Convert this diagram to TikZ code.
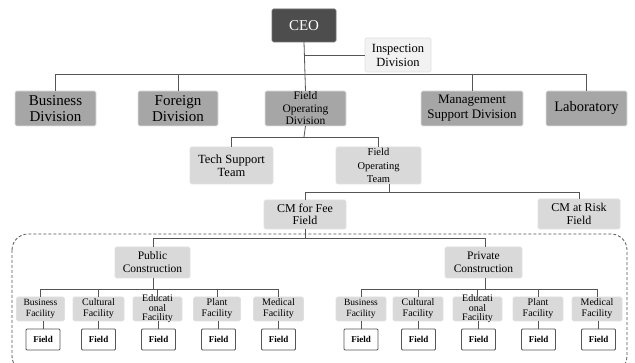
\documentclass[tikz,border=0pt]{standalone}
\usepackage{fontspec}
\setmainfont{Liberation Serif}
\newfontfamily\chartfont{Liberation Serif}
\begin{document}
\definecolor{ceofill}{HTML}{4D4D4D}
\definecolor{divfill}{HTML}{A6A6A6}
\definecolor{unitfill}{HTML}{D9D9D9}
\definecolor{inspfill}{HTML}{F2F2F2}
\definecolor{wire}{HTML}{555555}
\begin{tikzpicture}[x=1pt,y=-1pt,
  box/.style={rectangle, rounded corners=1.5pt, draw=black!12, line width=0.6pt,
    inner sep=0pt, outer sep=0pt},
  txt/.style={align=center, inner sep=0pt},
  fz/.style 2 args={font=\chartfont\fontsize{#1}{#2}\selectfont},
  ceobox/.style={box, fill=ceofill, draw=ceofill!80!white},
  divbox/.style={box, fill=divfill},
  unitbox/.style={box, fill=unitfill},
  inspbox/.style={box, fill=inspfill},
  facbox/.style={box, fill=unitfill, minimum height=24pt},
  fieldbox/.style={rectangle, rounded corners=1pt, draw=wire, line width=0.8pt, fill=white,
    minimum width=34pt, minimum height=21pt, inner sep=0pt,
    font=\chartfont\fontsize{9}{10}\selectfont\bfseries},
  wireline/.style={draw=wire, line width=0.8pt},
  group/.style={draw=wire, line width=0.8pt, dash pattern=on 3pt off 2pt, rounded corners=16pt}
]
\useasboundingbox (0,0) rectangle (635,363);
\clip (0,0) rectangle (635,363);

% dashed frame around the field-level organisation
\path[group] (12,234) rectangle (627,372);

% top level
\node[ceobox, minimum width=64pt, minimum height=33pt,
  label={[txt, fz={15}{16}, text=white]center:CEO}] (ceo) at (304,25.5) {};
\node[inspbox, minimum width=66pt, minimum height=34pt,
  label={[txt, fz={12.5}{14}]center:Inspection\\Division}] (insp) at (398,55) {};

% divisions
\node[divbox, minimum width=81pt, minimum height=35pt,
  label={[txt, fz={15}{16}]center:Business\\Division}] (bd) at (55.5,108.5) {};
\node[divbox, minimum width=80pt, minimum height=35pt,
  label={[txt, fz={15}{16}]center:Foreign\\Division}] (fd) at (178,108.5) {};
\node[divbox, minimum width=81pt, minimum height=35pt,
  label={[txt, fz={11.5}{12.5}]center:Field\\Operating\\Division}] (fod) at (305.5,108.5) {};
\node[divbox, minimum width=102pt, minimum height=35pt,
  label={[txt, fz={13}{15}]center:Management\\Support Division}] (msd) at (472,108.5) {};
\node[divbox, minimum width=81pt, minimum height=35pt,
  label={[txt, fz={14.5}{16}]center:Laboratory}] (lab) at (586.5,108.5) {};

% teams
\node[unitbox, minimum width=83pt, minimum height=37pt,
  label={[txt, fz={12.5}{13.5}]center:Tech Support\\Team}] (tst) at (231.5,165.5) {};
\node[unitbox, minimum width=85pt, minimum height=37pt,
  label={[txt, fz={10.5}{13.5}]center:Field\\Operating\\Team}] (fot) at (378.5,165.5) {};

% field types
\node[unitbox, minimum width=82pt, minimum height=29pt,
  label={[txt, fz={12}{12.5}]center:CM for Fee\\Field}] (cmf) at (305,214.5) {};
\node[unitbox, minimum width=82pt, minimum height=30pt,
  label={[txt, fz={12}{12.5}]center:CM at Risk\\Field}] (cmr) at (579,214) {};

% construction sectors
\node[unitbox, minimum width=75pt, minimum height=31pt,
  label={[txt, fz={11.5}{13}]center:Public\\Construction}] (pub) at (152.5,262.5) {};
\node[unitbox, minimum width=77pt, minimum height=31pt,
  label={[txt, fz={11.5}{13}]center:Private\\Construction}] (pri) at (483.5,262.5) {};

% facilities: public
\node[facbox, minimum width=48pt, label={[txt, fz={9.5}{11}]center:Business\\Facility}] (pbf) at (40.5,309) {};
\node[facbox, minimum width=51pt, label={[txt, fz={10}{11}]center:Cultural\\Facility}] (pcf) at (98.5,309) {};
\node[facbox, minimum width=49pt, label={[txt, fz={10}{9.5}]center:Educati\\onal\\Facility}] (pef) at (157.5,309) {};
\node[facbox, minimum width=47pt, label={[txt, fz={10}{11}]center:Plant\\Facility}] (ppf) at (217,309) {};
\node[facbox, minimum width=50pt, label={[txt, fz={10}{11}]center:Medical\\Facility}] (pmf) at (278.5,309) {};

% facilities: private
\node[facbox, minimum width=50pt, label={[txt, fz={9.5}{11}]center:Business\\Facility}] (qbf) at (361,309) {};
\node[facbox, minimum width=50pt, label={[txt, fz={10}{11}]center:Cultural\\Facility}] (qcf) at (418,309) {};
\node[facbox, minimum width=49pt, label={[txt, fz={10}{9.5}]center:Educati\\onal\\Facility}] (qef) at (477.5,309) {};
\node[facbox, minimum width=50pt, label={[txt, fz={10}{11}]center:Plant\\Facility}] (qpf) at (538,309) {};
\node[facbox, minimum width=50pt, label={[txt, fz={10}{11}]center:Medical\\Facility}] (qmf) at (597,309) {};

% field offices
\foreach \f/\x in {pbf/43, pcf/98.5, pef/158.5, ppf/218.5, pmf/278.5,
                   qbf/361, qcf/418.5, qef/478.5, qpf/538.5, qmf/598.5}{
  \node[fieldbox] (\f-field) at (\x,339.5) {Field};
}

% bus coordinates
\coordinate (b1) at (304,74);
\coordinate (b2) at (304,137);
\coordinate (b3) at (389,192);
\coordinate (b4) at (305,238);
\coordinate (b5) at (153,289);
\coordinate (b6) at (485,289);

% CEO to divisions
\draw[wireline] (ceo.south) -- (fod.north);
\draw[wireline] (ceo.south |- insp.west) -- (insp.west);
\draw[wireline] (b1 -| bd) -- (b1 -| lab);
\foreach \d in {bd, fd, msd, lab}{
  \draw[wireline] (b1 -| \d) -- (\d.north);
}

% field operating division to teams
\draw[wireline] (fod.south |- b2) ++(0,-11) -- (b2);
\draw[wireline] (b2 -| tst) -- (b2 -| fot);
\draw[wireline] (b2 -| tst) -- (tst.north);
\draw[wireline] (b2 -| fot) -- (fot.north);

% field operating team to field types
\draw[wireline] (b3 |- fot.south) -- (b3);
\draw[wireline] (b3 -| cmf) -- (b3 -| cmr);
\draw[wireline] (b3 -| cmf) -- (cmf.north);
\draw[wireline] (b3 -| cmr) -- (cmr.north);

% CM for fee to sectors
\draw[wireline] (cmf.south) -- (b4);
\draw[wireline] (b4 -| b5) -- (b4 -| b6);
\draw[wireline] (b4 -| b5) -- (b5 |- pub.north);
\draw[wireline] (b4 -| b6) -- (b6 |- pri.north);

% sectors to facilities
\draw[wireline] (b5 |- pub.south) -- (b5);
\draw[wireline] (b5 -| pbf) -- (b5 -| pmf);
\foreach \c in {pbf, pcf, pef, ppf, pmf}{
  \draw[wireline] (b5 -| \c) -- (\c.north);
  \draw[wireline] (\c.south -| \c-field) -- (\c-field.north);
}
\draw[wireline] (b6 |- pri.south) -- (b6);
\draw[wireline] (b6 -| qbf) -- (b6 -| qmf);
\foreach \c in {qbf, qcf, qef, qpf, qmf}{
  \draw[wireline] (b6 -| \c) -- (\c.north);
  \draw[wireline] (\c.south -| \c-field) -- (\c-field.north);
}
\end{tikzpicture}
\end{document}
